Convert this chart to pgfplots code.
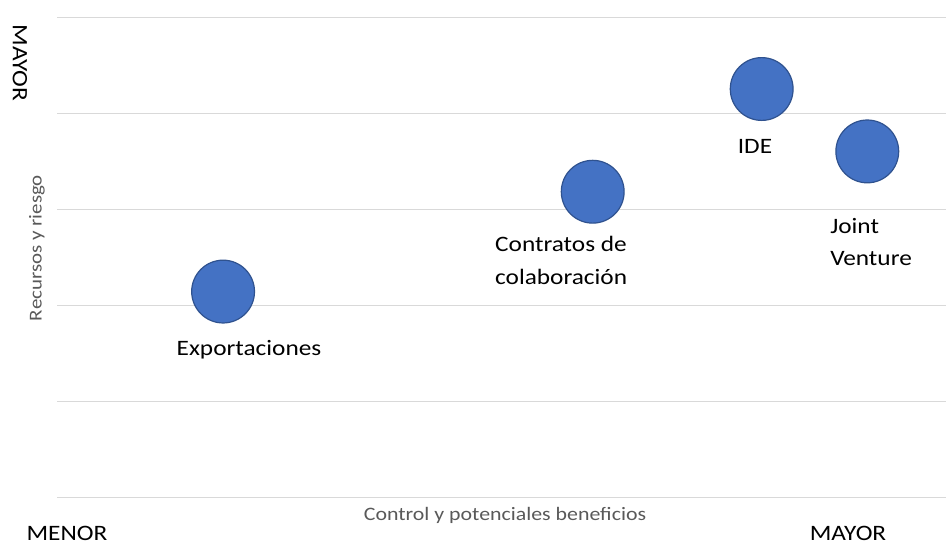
\documentclass[border=0pt]{standalone}
\usepackage{fontspec}
\setmainfont{Carlito}[FakeStretch=1.15]
\usepackage{pgfplots}
\pgfplotsset{compat=1.18}
\definecolor{bub}{HTML}{4472C4}
\definecolor{bubedge}{HTML}{2F528F}
\definecolor{gridc}{HTML}{D9D9D9}
\definecolor{ttl}{HTML}{595959}
\begin{document}
\begin{tikzpicture}[x=1pt,y=1pt]
\path[use as bounding box] (-28.5,-23) rectangle (444.5,248.5);
\begin{axis}[
  at={(0,0)}, anchor=south west,
  scale only axis, width=444.5pt, height=240pt,
  xmin=0, xmax=9.26, ymin=0, ymax=5,
  ytick={0,1,2,3,4,5}, xtick=\empty,
  yticklabels={}, tick style={draw=none},
  ymajorgrids, major grid style={gridc, line width=0.5pt},
  axis line style={draw=none},
  clip=false,
]
\addplot[only marks, mark=*, mark size=15.7pt,
  mark options={fill=bub, draw=bubedge, line width=0.6pt}]
  coordinates {(1.73,2.14) (5.58,3.18) (7.34,4.25) (8.44,3.60)};
\node[font=\fontsize{11}{13}\selectfont] at (axis cs:2.0,1.53) {Exportaciones};
\node[font=\fontsize{11}{16.5}\selectfont, anchor=west, align=left, inner sep=0pt] at (axis cs:4.56,2.46) {Contratos de\\colaboración};
\node[font=\fontsize{11}{13}\selectfont] at (axis cs:7.27,3.65) {IDE};
\node[font=\fontsize{11}{16}\selectfont, anchor=west, align=left, inner sep=0pt] at (axis cs:8.05,2.66) {Joint\\Venture};
\end{axis}
\node[font=\fontsize{9.5}{11}\selectfont, text=ttl] at (224,-9) {Control y potenciales beneficios};
\node[font=\fontsize{9.1}{11}\selectfont, text=ttl, rotate=90] at (-10,124.5) {Recursos y riesgo};
\node[font=\fontsize{11}{13}\selectfont, rotate=-90] at (-18.5,217) {MAYOR};
\node[font=\fontsize{11}{13}\selectfont] at (5,-18) {MENOR};
\node[font=\fontsize{11}{13}\selectfont] at (395.5,-18) {MAYOR};
\end{tikzpicture}
\end{document}
